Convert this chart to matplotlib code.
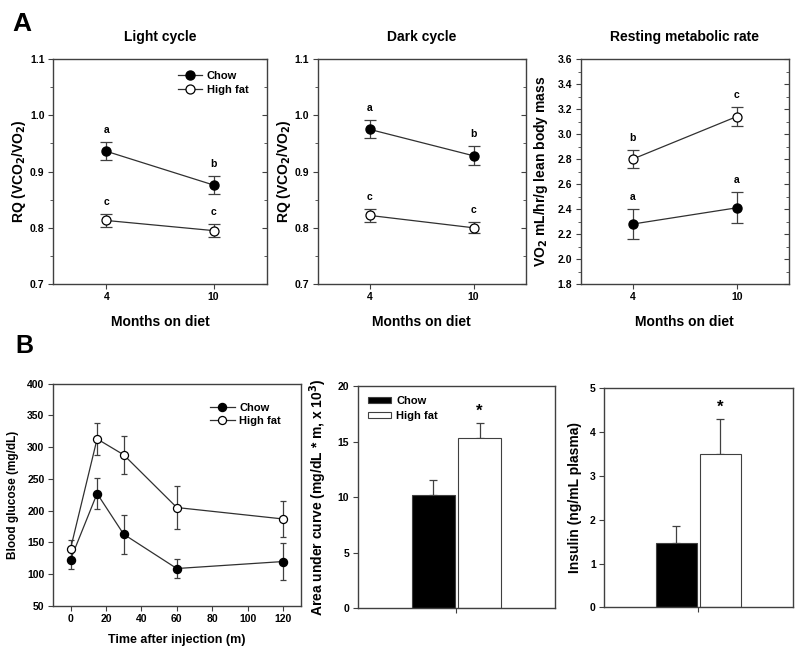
import numpy as np
import matplotlib
matplotlib.use("Agg")
import matplotlib.pyplot as plt
from matplotlib.ticker import MultipleLocator, FormatStrFormatter
from matplotlib.lines import Line2D

plt.rcParams['font.family'] = ['Liberation Sans', 'DejaVu Sans']
plt.rcParams['font.weight'] = 'bold'
plt.rcParams['axes.labelweight'] = 'bold'
plt.rcParams['axes.titleweight'] = 'bold'

# --- dados do painel A (calorimetria) ---
meses = ['4', '10']

luz_chow = [0.936, 0.876]
luz_chow_err = [0.016, 0.016]
luz_hf = [0.813, 0.795]
luz_hf_err = [0.011, 0.011]
luz_letras_chow = ['a', 'b']
luz_letras_hf = ['c', 'c']

escuro_chow = [0.975, 0.928]
escuro_chow_err = [0.016, 0.017]
escuro_hf = [0.822, 0.800]
escuro_hf_err = [0.011, 0.010]
escuro_letras_chow = ['a', 'b']
escuro_letras_hf = ['c', 'c']

rmr_chow = [2.28, 2.41]
rmr_chow_err = [0.12, 0.125]
rmr_hf = [2.80, 3.14]
rmr_hf_err = [0.072, 0.074]
rmr_letras_chow = ['a', 'a']
rmr_letras_hf = ['b', 'c']

# --- dados do painel B (GTT, AUC, insulina) ---
tempo = [0, 15, 30, 60, 120]
gtt_chow = [123, 227, 163, 109, 120]
gtt_chow_err = [15, 25, 31, 15, 29]
gtt_hf = [140, 313, 288, 205, 187]
gtt_hf_err = [14, 25, 30, 34, 29]

grupos = ['Chow', 'High fat']
auc = [10.2, 15.33]
auc_err = [1.36, 1.38]
insulina = [1.47, 3.50]
insulina_err = [0.38, 0.80]

COR_EIXO = '#404040'
COR_LINHA = '#303030'


def estilo_eixo(ax):
    for s in ax.spines.values():
        s.set_color(COR_EIXO)
        s.set_linewidth(1.0)
    ax.tick_params(which='both', colors=COR_EIXO, labelcolor='black',
                   labelsize=7.5, direction='out', pad=2.5)
    ax.tick_params(which='major', length=3.5, width=0.8)
    ax.tick_params(which='minor', length=2, width=0.6)


def legenda_linhas(ax, ms, ancora):
    alcas = [Line2D([], [], color=COR_LINHA, lw=0.9, marker='o', mfc='black',
                    mec='black', ms=ms),
             Line2D([], [], color=COR_LINHA, lw=0.9, marker='o', mfc='white',
                    mec='black', mew=0.9, ms=ms)]
    ax.legend(alcas, grupos, loc='upper right', frameon=False, fontsize=8,
              handlelength=2.2, borderaxespad=0.5, labelspacing=0.3,
              handletextpad=0.4, bbox_to_anchor=ancora)


def painel_linha(ax, titulo, ylabel, chow, chow_err, hf, hf_err,
                 l_chow, l_hf, ylim, maj, mnr, fmt, ypad):
    x = np.arange(1, len(meses) + 1)
    ax.errorbar(x, chow, yerr=chow_err, fmt='-o', color=COR_LINHA, lw=0.9,
                mfc='black', mec='black', ms=6.5, ecolor=COR_EIXO,
                elinewidth=0.9, capsize=4.3, capthick=0.9, zorder=3)
    ax.errorbar(x, hf, yerr=hf_err, fmt='-o', color=COR_LINHA, lw=0.9,
                mfc='white', mec='black', mew=0.9, ms=6.5, ecolor=COR_EIXO,
                elinewidth=0.9, capsize=4.3, capthick=0.9, zorder=3)
    for xi, v, e, t in zip(x, chow, chow_err, l_chow):
        ax.annotate(t, (xi, v + e), xytext=(0, 5), textcoords='offset points',
                    ha='center', va='bottom', fontsize=7.5, fontweight='bold')
    for xi, v, e, t in zip(x, hf, hf_err, l_hf):
        ax.annotate(t, (xi, v + e), xytext=(0, 5), textcoords='offset points',
                    ha='center', va='bottom', fontsize=7.5, fontweight='bold')
    ax.set_xlim(0.5, 2.5)
    ax.set_xticks(x)
    ax.set_xticklabels(meses)
    ax.set_ylim(*ylim)
    ax.yaxis.set_major_locator(MultipleLocator(maj))
    ax.yaxis.set_minor_locator(MultipleLocator(mnr))
    ax.yaxis.set_major_formatter(FormatStrFormatter(fmt))
    ax.set_title(titulo, fontsize=10, pad=13)
    ax.set_xlabel('Months on diet', fontsize=10, labelpad=9)
    ax.set_ylabel(ylabel, fontsize=10, labelpad=ypad)
    estilo_eixo(ax)
    ax.yaxis.set_tick_params(which='both', right=True)
    for t in ax.yaxis.get_major_ticks() + ax.yaxis.get_minor_ticks():
        t.tick2line.set_marker(matplotlib.lines.TICKLEFT)


def painel_barra(ax, valores, erros, ylabel, ylim, maj, legenda):
    pos = [0.383, 0.617]
    cores = ['black', 'white']
    for p, v, e, c, g in zip(pos, valores, erros, cores, grupos):
        ax.bar(p, v, width=0.215, color=c, edgecolor=COR_EIXO, lw=0.8,
               label=g, zorder=2)
        ax.errorbar(p, v, yerr=[[0], [e]], fmt='none', ecolor=COR_EIXO,
                    elinewidth=0.9, capsize=3, capthick=0.9, zorder=1)
    ax.annotate('*', (pos[1], valores[1] + erros[1]), xytext=(0, 3),
                textcoords='offset points', ha='center', va='bottom',
                fontsize=12, fontweight='bold')
    ax.set_xlim(0, 1)
    ax.set_xticks([0.5])
    ax.set_xticklabels([''])
    ax.set_ylim(*ylim)
    ax.yaxis.set_major_locator(MultipleLocator(maj))
    ax.set_ylabel(ylabel, fontsize=10, labelpad=6)
    estilo_eixo(ax)
    if legenda:
        ax.legend(loc='upper left', frameon=False, fontsize=8,
                  handlelength=2.1, handleheight=0.45, borderaxespad=0.5,
                  labelspacing=0.45, handletextpad=0.5)


def main():
    fig = plt.figure(figsize=(8, 6.56), dpi=100)

    ax1 = fig.add_axes([0.066, 0.567, 0.268, 0.343])
    ax2 = fig.add_axes([0.397, 0.567, 0.260, 0.343])
    ax3 = fig.add_axes([0.726, 0.567, 0.260, 0.343])

    painel_linha(ax1, 'Light cycle', 'RQ (VCO$_\\mathbf{2}$/VO$_\\mathbf{2}$)',
                 luz_chow, luz_chow_err, luz_hf, luz_hf_err,
                 luz_letras_chow, luz_letras_hf, (0.7, 1.1), 0.1, 0.05, '%.1f', 1)
    painel_linha(ax2, 'Dark cycle', 'RQ (VCO$_\\mathbf{2}$/VO$_\\mathbf{2}$)',
                 escuro_chow, escuro_chow_err, escuro_hf, escuro_hf_err,
                 escuro_letras_chow, escuro_letras_hf, (0.7, 1.1), 0.1, 0.05, '%.1f', 1)
    painel_linha(ax3, 'Resting metabolic rate', 'VO$_\\mathbf{2}$ mL/hr/g lean body mass',
                 rmr_chow, rmr_chow_err, rmr_hf, rmr_hf_err,
                 rmr_letras_chow, rmr_letras_hf, (1.8, 3.6), 0.2, 0.1, '%.1f', 6)
    legenda_linhas(ax1, 6.5, (0.96, 0.99))

    # painel B1 - curva de glicose
    bx1 = fig.add_axes([0.066, 0.0762, 0.310, 0.339])
    bx1.errorbar(tempo, gtt_chow, yerr=gtt_chow_err, fmt='-o', color=COR_LINHA,
                 lw=0.9, mfc='black', mec='black', ms=5.8, ecolor=COR_EIXO,
                 elinewidth=0.9, capsize=2.5, capthick=0.9, zorder=3)
    bx1.errorbar(tempo, gtt_hf, yerr=gtt_hf_err, fmt='-o', color=COR_LINHA,
                 lw=0.9, mfc='white', mec='black', mew=0.9, ms=5.8, ecolor=COR_EIXO,
                 elinewidth=0.9, capsize=2.5, capthick=0.9, zorder=3)
    bx1.set_xlim(-10, 130)
    bx1.set_ylim(50, 400)
    bx1.set_xticks([0, 20, 40, 60, 80, 100, 120])
    bx1.yaxis.set_major_locator(MultipleLocator(50))
    bx1.set_xlabel('Time after injection (m)', fontsize=9, labelpad=7)
    bx1.set_ylabel('Blood glucose (mg/dL)', fontsize=8.5, labelpad=6)
    estilo_eixo(bx1)
    legenda_linhas(bx1, 5.8, (0.96, 0.96))

    bx2 = fig.add_axes([0.447, 0.0727, 0.247, 0.339])
    painel_barra(bx2, auc, auc_err,
                 'Area under curve (mg/dL * m, x 10$^\\mathbf{3}$)', (0, 20), 5, True)
    bx3 = fig.add_axes([0.755, 0.0742, 0.236, 0.334])
    painel_barra(bx3, insulina, insulina_err,
                 'Insulin (ng/mL plasma)', (0, 5), 1, False)

    fig.text(0.015, 0.963, 'A', fontsize=19, fontweight='bold', va='center')
    fig.text(0.019, 0.472, 'B', fontsize=18, fontweight='bold', va='center')

    fig.savefig('out.png', dpi=100)


if __name__ == "__main__":
    main()
